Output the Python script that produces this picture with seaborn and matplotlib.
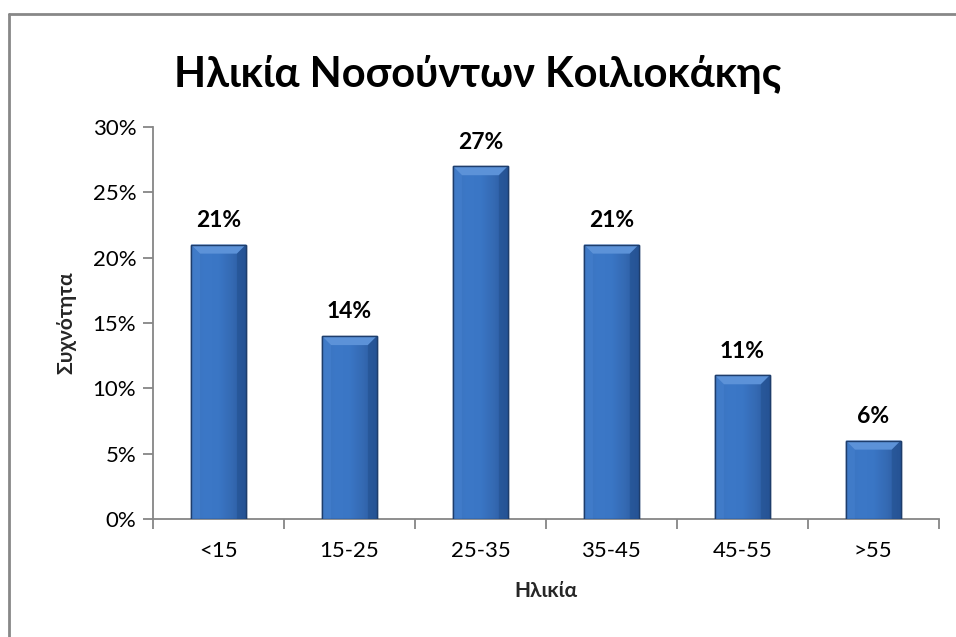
import numpy as np
import pandas as pd
import matplotlib
matplotlib.use("Agg")
import matplotlib.pyplot as plt
from matplotlib.patches import Polygon, Rectangle
from matplotlib.colors import LinearSegmentedColormap
from matplotlib.ticker import PercentFormatter, MultipleLocator
import seaborn as sns

# Age groups and share of patients in each
age_groups = ["<15", "15-25", "25-35", "35-45", "45-55", ">55"]
shares = [0.21, 0.14, 0.27, 0.21, 0.11, 0.06]

title = "Ηλικία Νοσούντων Κοιλιοκάκης"
x_label = "Ηλικία"
y_label = "Συχνότητα"

sns.set_theme(style="white")
plt.rcParams["font.family"] = ["Lato", "Open Sans", "DejaVu Sans"]

df = pd.DataFrame({"age": age_groups, "share": shares})

fig = plt.figure(figsize=(9.56, 6.37), dpi=100)
ax = fig.add_axes([0.160, 0.1852, 0.822, 0.6154])

bar_color = "#3A76C6"
sns.barplot(data=df, x="age", y="share", color=bar_color, width=0.42,
            saturation=1, edgecolor="#1E3D6B", linewidth=1.0, ax=ax, zorder=3)

ax.set_ylim(0, 0.30)
ax.set_xlim(-0.5, len(age_groups) - 0.5)
ax.yaxis.set_major_locator(MultipleLocator(0.05))
ax.yaxis.set_major_formatter(PercentFormatter(1.0, decimals=0))

# Bevelled look: horizontal shading plus lighter top facet and side strips
shade = LinearSegmentedColormap.from_list(
    "shade", ["#3A73BE", "#3C78C7", "#3A76C5", "#3469B2", "#28569A"])
grad = np.linspace(0, 1, 64).reshape(1, -1)
px_x = 130.8  # pixels per category
px_y = 392 / 0.30
for patch in list(ax.patches):
    x0, y0 = patch.get_x(), patch.get_y()
    w, h = patch.get_width(), patch.get_height()
    im = ax.imshow(grad, cmap=shade, aspect="auto",
                   extent=(x0, x0 + w, y0, y0 + h), zorder=3.1,
                   interpolation="bicubic")
    im.set_clip_path(patch)
    dx = 9 / px_x
    dy = 9 / px_y
    top = y0 + h
    # top facet
    ax.add_patch(Polygon([(x0, top), (x0 + w, top), (x0 + w - dx, top - dy),
                          (x0 + dx, top - dy)], closed=True,
                         facecolor="#5C92D8", edgecolor="none", zorder=3.2))
    # left facet
    ax.add_patch(Polygon([(x0, top), (x0 + dx, top - dy), (x0 + dx, y0),
                          (x0, y0)], closed=True,
                         facecolor="#4580CE", edgecolor="none", alpha=0.6, zorder=3.2))
    # right facet
    ax.add_patch(Polygon([(x0 + w, top), (x0 + w - dx, top - dy),
                          (x0 + w - dx, y0), (x0 + w, y0)], closed=True,
                         facecolor="#23508F", edgecolor="none", alpha=0.55, zorder=3.2))
    # outline on top
    ax.add_patch(Rectangle((x0, y0), w, h, facecolor="none",
                           edgecolor="#1E3D6B", linewidth=1.0, zorder=3.3))
    patch.set_zorder(3)

# value labels
for i, v in enumerate(shares):
    ax.text(i, v + 0.0185, f"{v * 100:.0f}%", ha="center", va="center",
            fontsize=16.5, fontweight="bold", color="black", zorder=5)

axis_gray = "#868686"
for side in ["top", "right"]:
    ax.spines[side].set_visible(False)
for side in ["left", "bottom"]:
    ax.spines[side].set_color(axis_gray)
    ax.spines[side].set_linewidth(1.3)

ax.tick_params(axis="y", which="major", direction="out", length=7, width=1.3,
               color=axis_gray, labelsize=16, labelcolor="black", pad=5, left=True)
ax.set_xticks(np.arange(len(age_groups)))
ax.set_xticklabels(age_groups)
ax.tick_params(axis="x", which="major", length=0, labelsize=16,
               labelcolor="black", pad=16)
ax.set_xticks(np.arange(len(age_groups) + 1) - 0.5, minor=True)
ax.tick_params(axis="x", which="minor", direction="out", length=7, width=1.3,
               color=axis_gray, bottom=True)

ax.set_xlabel(x_label, fontsize=15, fontweight="bold", labelpad=14)
ax.set_ylabel(y_label, fontsize=15, fontweight="bold", labelpad=12)
ax.grid(False)

fig.text(0.5, 1 - 75 / 637, title, ha="center", va="center",
         fontsize=30, fontweight="bold", color="black")

# chart frame
fig.add_artist(plt.Line2D([8.5 / 956, 1], [1 - 13.5 / 637] * 2,
                          transform=fig.transFigure, color="#888888", linewidth=2))
fig.add_artist(plt.Line2D([8.5 / 956] * 2, [0, 1 - 13.5 / 637],
                          transform=fig.transFigure, color="#888888", linewidth=2))

fig.savefig("out.png", dpi=100)
